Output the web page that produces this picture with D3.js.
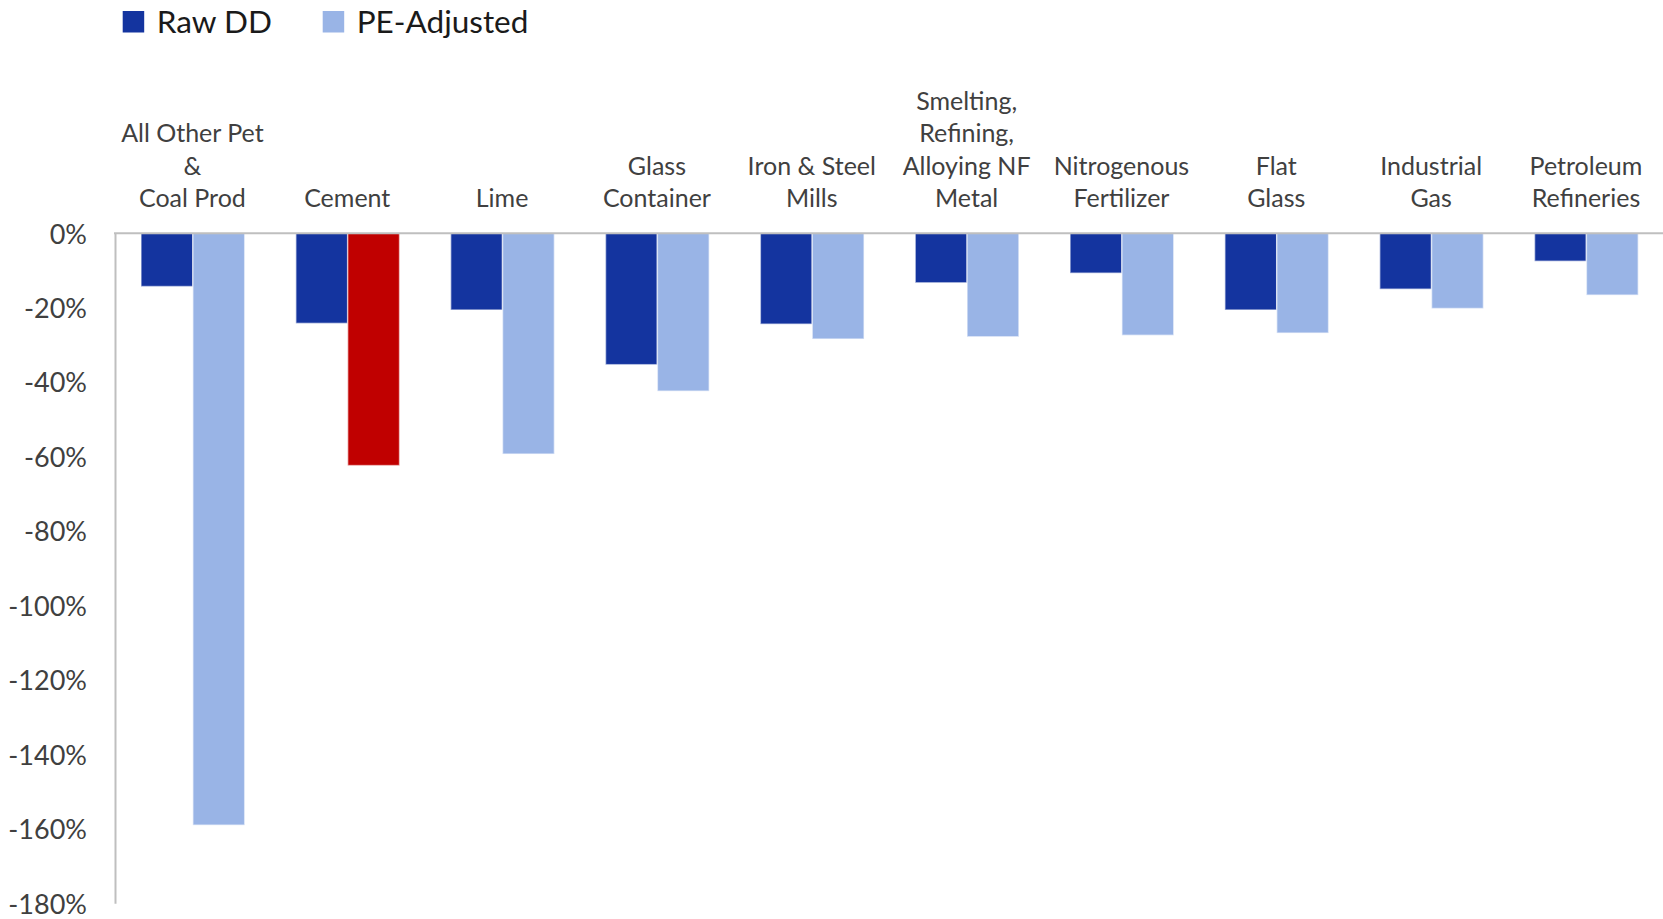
<!DOCTYPE html>
<html>
<head>
<meta charset="utf-8">
<script src="https://cdn.jsdelivr.net/npm/d3@7"></script>
<style>
  html, body { margin: 0; padding: 0; background: #ffffff; }
  svg { display: block; font-family: Lato, "Open Sans", "Liberation Sans", sans-serif; }
</style>
</head>
<body>
<svg id="chart" width="1663" height="919"></svg>
<script>
// Industry categories (line breaks mark wrapped label lines)
const categories = [
  "All Other Pet\n&\nCoal Prod",
  "Cement",
  "Lime",
  "Glass\nContainer",
  "Iron & Steel\nMills",
  "Smelting,\nRefining,\nAlloying NF\nMetal",
  "Nitrogenous\nFertilizer",
  "Flat\nGlass",
  "Industrial\nGas",
  "Petroleum\nRefineries"
];

// Change in percent, per industry
const rawDD      = [-14.3, -24.2, -20.6, -35.3, -24.4, -13.3, -10.7, -20.6, -15.0, -7.5];
const peAdjusted = [-159.0, -62.4, -59.3, -42.4, -28.4, -27.8, -27.4, -26.8, -20.2, -16.6];

const seriesNames = ["Raw DD", "PE-Adjusted"];
const highlighted = "Cement";

const yTicks = [0, -20, -40, -60, -80, -100, -120, -140, -160, -180];

const colors = { "Raw DD": "#14349F", "PE-Adjusted": "#99B4E6", highlight: "#C00000" };

const svg = d3.select("#chart");

const plot = { left: 115, top: 233.3, bottom: 903.3, step: 154.84 };

const x0 = d3.scaleBand()
  .domain(categories)
  .range([plot.left, plot.left + plot.step * categories.length])
  .paddingInner(0).paddingOuter(0);

const x1 = d3.scaleBand()
  .domain(seriesNames)
  .range([26, 129.7]);

const y = d3.scaleLinear()
  .domain([0, -180])
  .range([plot.top, plot.bottom]);

// Bars
const rows = categories.map((c, i) => ({
  cat: c,
  values: [
    { key: "Raw DD", value: rawDD[i] },
    { key: "PE-Adjusted", value: peAdjusted[i] }
  ]
}));

const groups = svg.append("g").selectAll("g")
  .data(rows).join("g")
  .attr("transform", d => `translate(${x0(d.cat)},0)`);

groups.selectAll("rect")
  .data(d => d.values.map(v => ({ ...v, cat: d.cat })))
  .join("rect")
  .attr("x", d => x1(d.key))
  .attr("width", x1.bandwidth())
  .attr("y", y(0))
  .attr("height", d => y(d.value) - y(0))
  .attr("fill", d => (d.cat === highlighted && d.key === "PE-Adjusted") ? colors.highlight : colors[d.key])
  .attr("stroke", "#ffffff")
  .attr("stroke-opacity", 0.55)
  .attr("stroke-width", 1.5);

// Y axis
const yAxis = d3.axisLeft(y)
  .tickValues(yTicks)
  .tickSize(0)
  .tickPadding(28)
  .tickFormat(d => `${d}%`);

const yg = svg.append("g")
  .attr("transform", `translate(${plot.left},0)`)
  .call(yAxis);
yg.select(".domain").attr("stroke", "#BFBFBF").attr("stroke-width", 2);
yg.selectAll(".tick text")
  .attr("fill", "#404040")
  .style("font-size", "27px")
  .style("font-family", "Lato, 'Open Sans', sans-serif")
  .attr("dy", "0.36em");

// Zero line
svg.append("line")
  .attr("x1", plot.left - 1).attr("x2", 1663)
  .attr("y1", y(0)).attr("y2", y(0))
  .attr("stroke", "#BFBFBF").attr("stroke-width", 2);

// Category labels above the zero line, bottom-aligned
const lineH = 32.5;
const labelBase = 207;
const labels = svg.append("g").selectAll("text")
  .data(categories).join("text")
  .attr("text-anchor", "middle")
  .attr("fill", "#404040")
  .style("font-size", "25px");
labels.each(function(d) {
  const lines = d.split("\n");
  const cx = x0(d) + x0.bandwidth() / 2;
  d3.select(this).selectAll("tspan")
    .data(lines).join("tspan")
    .attr("x", cx)
    .attr("y", (l, i) => labelBase - (lines.length - 1 - i) * lineH)
    .text(l => l);
});

// Legend
const legendItems = [
  { name: "Raw DD", x: 122.7 },
  { name: "PE-Adjusted", x: 322.7 }
];
const lg = svg.append("g").selectAll("g")
  .data(legendItems).join("g")
  .attr("transform", d => `translate(${d.x},0)`);
lg.append("rect")
  .attr("x", 0).attr("y", 11)
  .attr("width", 21.5).attr("height", 21.5)
  .attr("fill", d => colors[d.name]);
lg.append("text")
  .attr("x", 34).attr("y", 32.5)
  .attr("fill", "#1a1a1a")
  .style("font-size", "31.5px")
  .text(d => d.name);
</script>
</body>
</html>
